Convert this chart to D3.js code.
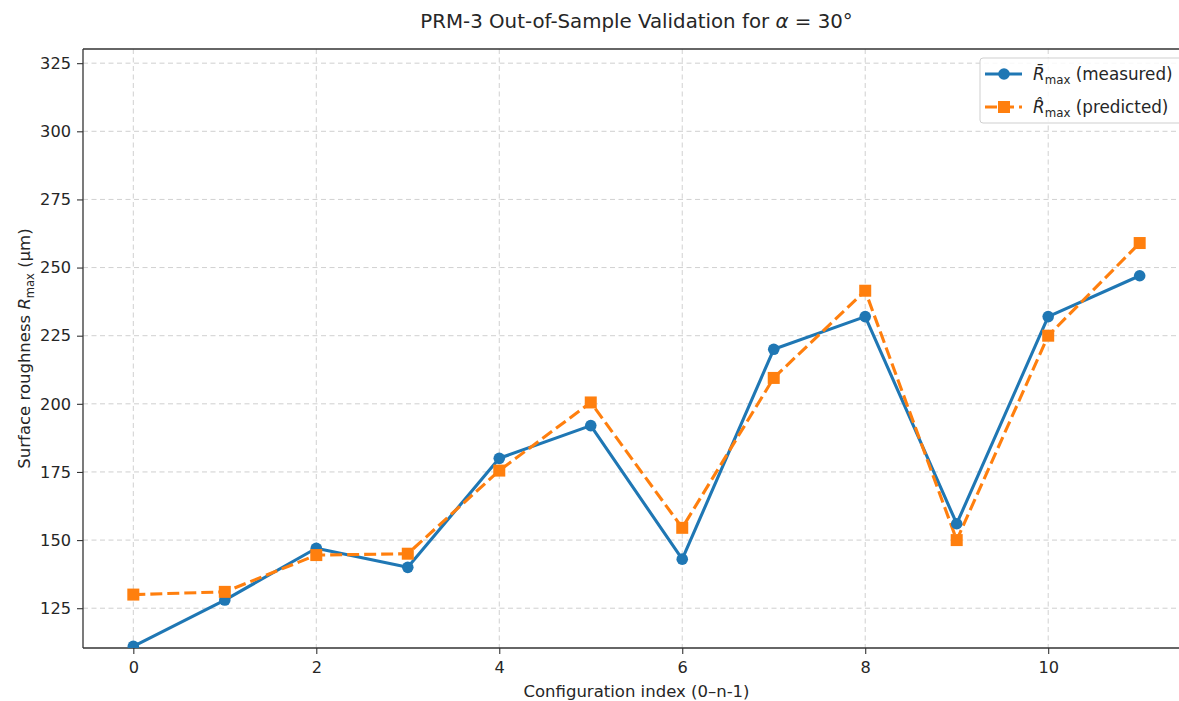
<!DOCTYPE html>
<html>
<head>
<meta charset="utf-8">
<script src="https://cdn.jsdelivr.net/npm/d3@7"></script>
<style>
  html, body { margin: 0; padding: 0; background: #fff; }
  svg { display: block; font-family: "DejaVu Sans", sans-serif; }
</style>
</head>
<body>
<svg id="chart" width="1179" height="701"></svg>
<script>
// Configuration indices and roughness values (µm)
const configIndex = [0, 1, 2, 3, 4, 5, 6, 7, 8, 9, 10, 11];
const measured  = [111, 128, 147, 140, 180, 192, 143, 220, 232, 156, 232, 247];
const predicted = [130, 131, 144.5, 145, 175.5, 200.5, 154.5, 209.5, 241.5, 150, 225, 259];
const xTicks = [0, 2, 4, 6, 8, 10];
const yTicks = [125, 150, 175, 200, 225, 250, 275, 300, 325];

const svg = d3.select("#chart");
const margin = { left: 83, right: 1190, top: 49, bottom: 648 };

const x = d3.scaleLinear().domain([-0.55, 11.55]).range([margin.left, margin.right]);
const y = d3.scaleLinear().domain([110.4, 330.2]).range([margin.bottom, margin.top]);

const blue = "#1f77b4", orange = "#ff7f0e";
const textColor = "#262626";
const tickFont = "16.2px";
const lw = 3.1, dash = "12,5";

// clip region for the plotting area
svg.append("defs").append("clipPath").attr("id", "plotClip")
  .append("rect")
  .attr("x", margin.left).attr("y", margin.top)
  .attr("width", margin.right - margin.left)
  .attr("height", margin.bottom - margin.top);

// grid
const grid = svg.append("g").attr("stroke", "#b0b0b0").attr("stroke-opacity", 0.6)
  .attr("stroke-width", 1).attr("stroke-dasharray", "5,3.5");
grid.selectAll("line.v").data(xTicks).join("line")
  .attr("x1", d => x(d)).attr("x2", d => x(d))
  .attr("y1", margin.top).attr("y2", margin.bottom);
grid.selectAll("line.h").data(yTicks).join("line")
  .attr("y1", d => y(d)).attr("y2", d => y(d))
  .attr("x1", margin.left).attr("x2", margin.right);

// axes
const xAxis = svg.append("g").attr("transform", `translate(0,${margin.bottom})`)
  .call(d3.axisBottom(x).tickValues(xTicks).tickSize(6).tickPadding(7).tickSizeOuter(0));
const yAxis = svg.append("g").attr("transform", `translate(${margin.left},0)`)
  .call(d3.axisLeft(y).tickValues(yTicks).tickSize(6).tickPadding(6).tickSizeOuter(0));
[xAxis, yAxis].forEach(a => {
  a.select(".domain").remove();
  a.selectAll("line").attr("stroke", "#333").attr("stroke-width", 1.1);
  a.selectAll("text").attr("fill", textColor).style("font-size", tickFont)
    .style("font-family", "DejaVu Sans, sans-serif");
});

// spines
const spine = svg.append("g").attr("stroke", "#333").attr("stroke-width", 1.3).attr("fill", "none");
spine.append("line").attr("x1", margin.left).attr("x2", margin.left).attr("y1", margin.top).attr("y2", margin.bottom);
spine.append("line").attr("x1", margin.left).attr("x2", margin.right).attr("y1", margin.bottom).attr("y2", margin.bottom);
spine.append("line").attr("x1", margin.left).attr("x2", margin.right).attr("y1", margin.top).attr("y2", margin.top);
spine.append("line").attr("x1", margin.right).attr("x2", margin.right).attr("y1", margin.top).attr("y2", margin.bottom);

// series
const plot = svg.append("g").attr("clip-path", "url(#plotClip)");
const line = d3.line().x((d, i) => x(configIndex[i])).y(d => y(d));

plot.append("path").datum(measured).attr("d", line)
  .attr("fill", "none").attr("stroke", blue).attr("stroke-width", lw)
  .attr("stroke-linejoin", "round");
plot.append("path").datum(predicted).attr("d", line)
  .attr("fill", "none").attr("stroke", orange).attr("stroke-width", lw)
  .attr("stroke-dasharray", dash);

plot.selectAll("circle.m").data(measured).join("circle")
  .attr("cx", (d, i) => x(configIndex[i])).attr("cy", d => y(d))
  .attr("r", 5.8).attr("fill", blue);
const sq = 12;
plot.selectAll("rect.p").data(predicted).join("rect")
  .attr("x", (d, i) => x(configIndex[i]) - sq / 2).attr("y", d => y(d) - sq / 2)
  .attr("width", sq).attr("height", sq).attr("fill", orange);

// title
svg.append("text").attr("x", 636.5).attr("y", 28).attr("text-anchor", "middle")
  .style("font-size", "19.8px").attr("fill", textColor)
  .html('PRM-3 Out-of-Sample Validation for <tspan font-style="italic">α</tspan> = 30°');

// axis labels
svg.append("text").attr("x", 636.5).attr("y", 697).attr("text-anchor", "middle")
  .style("font-size", "16.5px").attr("fill", textColor)
  .text("Configuration index (0–n-1)");

svg.append("text").attr("transform", `translate(30,${(margin.top + margin.bottom) / 2}) rotate(-90)`)
  .attr("text-anchor", "middle").style("font-size", "16.5px").attr("fill", textColor)
  .html('Surface roughness <tspan font-style="italic">R</tspan><tspan font-size="11.5px" dy="3.5">max</tspan><tspan dy="-3.5"> (μm)</tspan>');

// legend
const legend = svg.append("g").attr("transform", "translate(980,58)");
legend.append("rect").attr("width", 230).attr("height", 65).attr("rx", 3)
  .attr("fill", "#fff").attr("fill-opacity", 0.85).attr("stroke", "#cfcfcf");
const items = [
  { label: "(measured)", mark: "\u0304", color: blue, dashed: false, shape: "circle" },
  { label: "(predicted)", mark: "\u0302", color: orange, dashed: true, shape: "square" }
];
items.forEach((it, i) => {
  const g = legend.append("g").attr("transform", `translate(0,${16 + i * 33})`);
  g.append("line").attr("x1", 5).attr("x2", 42).attr("y1", 0).attr("y2", 0)
    .attr("stroke", it.color).attr("stroke-width", lw)
    .attr("stroke-dasharray", it.dashed ? "12,5" : null);
  if (it.shape === "circle") {
    g.append("circle").attr("cx", 24).attr("cy", 0).attr("r", 5.8).attr("fill", it.color);
  } else {
    g.append("rect").attr("x", 24 - sq / 2).attr("y", -sq / 2).attr("width", sq).attr("height", sq).attr("fill", it.color);
  }
  g.append("text").attr("x", 53).attr("y", 6).style("font-size", "16.8px").attr("fill", textColor)
    .html(`<tspan font-style="italic">R${it.mark}</tspan><tspan font-size="11.8px" dy="3.5">max</tspan><tspan dy="-3.5"> ${it.label}</tspan>`);
});
</script>
</body>
</html>
